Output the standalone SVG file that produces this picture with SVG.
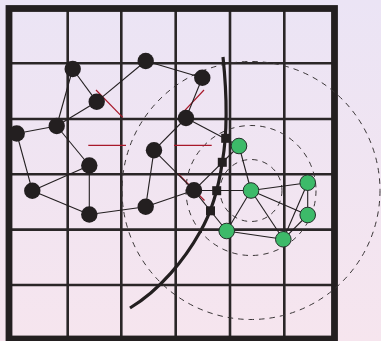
<svg xmlns="http://www.w3.org/2000/svg" width="381" height="341" viewBox="0 0 381 341">
<defs>
<linearGradient id="bg" x1="0" y1="0" x2="0" y2="1">
<stop offset="0" stop-color="#ebe4f5"/>
<stop offset="1" stop-color="#f6e5ee"/>
</linearGradient>
<style>
.grid{stroke:#2a2627;stroke-width:2.6;fill:none}
.frame{stroke:#231f20;stroke-width:6.8;fill:none}
.dash{stroke:#3a3637;stroke-width:1;fill:none;stroke-dasharray:5.5 5}
.red{stroke:#a8182a;stroke-width:1.2;fill:none}
.edge{stroke:#231f20;stroke-width:1.1;fill:none}
.cut{stroke:#231f20;stroke-width:3.2;fill:none;stroke-linecap:butt}
.bn{fill:#231f20}
.gn{fill:#3dba69;stroke:#24302a;stroke-width:1}
.sq{fill:#231f20}
</style>
</defs>
<rect x="0" y="0" width="381" height="341" fill="url(#bg)"/>
<g id="grid">
<path class="grid" d="M67.7,9V339M121.3,9V339M175.7,9V339M230,9V339M284.3,9V339M9,63.3H336M9,119H336M9,174.3H336M9,229.6H336M9,285H336"/>
</g>
<rect class="frame" x="9" y="8.5" width="325.5" height="330.5"/>
<g id="circles">
<circle class="dash" cx="251" cy="190.5" r="129"/>
<circle class="dash" cx="251" cy="190.5" r="65"/>
<circle class="dash" cx="251" cy="190.5" r="31"/>
</g>
<g id="bisectors">
<line class="red" x1="96" y1="90" x2="122.7" y2="117.3"/>
<line class="red" x1="88.3" y1="145.3" x2="126" y2="145.3"/>
<line class="red" x1="174" y1="145.3" x2="211.7" y2="145.3"/>
<line class="red" x1="178.3" y1="117.3" x2="204" y2="90"/>
<line class="red" x1="178.3" y1="174" x2="204.5" y2="200.5"/>
</g>
<g id="connectors">
<line class="edge" x1="72.7" y1="69" x2="96.7" y2="101.7"/>
<line class="edge" x1="72.7" y1="69" x2="56.7" y2="126"/>
<line class="edge" x1="96.7" y1="101.7" x2="145.7" y2="61"/>
<line class="edge" x1="96.7" y1="101.7" x2="56.7" y2="126"/>
<line class="edge" x1="145.7" y1="61" x2="202.3" y2="77.7"/>
<line class="edge" x1="202.3" y1="77.7" x2="186" y2="118"/>
<line class="edge" x1="186" y1="118" x2="154" y2="150.3"/>
<line class="edge" x1="186" y1="118" x2="239" y2="146"/>
<line class="edge" x1="56.7" y1="126" x2="16.7" y2="133.5"/>
<line class="edge" x1="56.7" y1="126" x2="89.3" y2="165.5"/>
<line class="edge" x1="16.7" y1="133.5" x2="32.3" y2="190.7"/>
<line class="edge" x1="89.3" y1="165.5" x2="32.3" y2="190.7"/>
<line class="edge" x1="89.3" y1="165.5" x2="89.3" y2="214.5"/>
<line class="edge" x1="32.3" y1="190.7" x2="89.3" y2="214.5"/>
<line class="edge" x1="89.3" y1="214.5" x2="145.7" y2="206.7"/>
<line class="edge" x1="154" y1="150.3" x2="145.7" y2="206.7"/>
<line class="edge" x1="154" y1="150.3" x2="194" y2="190.3"/>
<line class="edge" x1="145.7" y1="206.7" x2="194" y2="190.3"/>
<line class="edge" x1="194" y1="190.3" x2="239" y2="146"/>
<line class="edge" x1="194" y1="190.5" x2="251" y2="190.5"/>
<line class="edge" x1="194" y1="190.3" x2="226.7" y2="231"/>
<line class="edge" x1="239" y1="146" x2="251" y2="190.5"/>
<line class="edge" x1="251" y1="190.5" x2="307.7" y2="182.7"/>
<line class="edge" x1="251" y1="190.5" x2="307.7" y2="215"/>
<line class="edge" x1="251" y1="190.5" x2="226.7" y2="231"/>
<line class="edge" x1="251" y1="190.5" x2="283.3" y2="239.3"/>
<line class="edge" x1="307.7" y1="182.7" x2="307.7" y2="215"/>
<line class="edge" x1="307.7" y1="182.7" x2="283.3" y2="239.3"/>
<line class="edge" x1="307.7" y1="215" x2="283.3" y2="239.3"/>
<line class="edge" x1="226.7" y1="231" x2="283.3" y2="239.3"/>
</g>
<g id="cut">
<path class="cut" d="M223,57 C227,95 227.5,132 222.3,162.3 C219,185 213,210 200,232 C185,259 160,290 130,308"/>
</g>
<g id="n-A"><circle class="bn" cx="72.7" cy="69" r="8.2"/></g>
<g id="n-B"><circle class="bn" cx="145.7" cy="61" r="8.2"/></g>
<g id="n-C"><circle class="bn" cx="202.3" cy="77.7" r="8.2"/></g>
<g id="n-D"><circle class="bn" cx="96.7" cy="101.7" r="8.2"/></g>
<g id="n-E"><circle class="bn" cx="186" cy="118" r="8.2"/></g>
<g id="n-F"><circle class="bn" cx="56.7" cy="126" r="8.2"/></g>
<g id="n-G"><circle class="bn" cx="16.7" cy="133.5" r="8.2"/></g>
<g id="n-H"><circle class="bn" cx="154" cy="150.3" r="8.2"/></g>
<g id="n-I"><circle class="bn" cx="89.3" cy="165.5" r="8.2"/></g>
<g id="n-J"><circle class="bn" cx="32.3" cy="190.7" r="8.2"/></g>
<g id="n-K"><circle class="bn" cx="89.3" cy="214.5" r="8.2"/></g>
<g id="n-L"><circle class="bn" cx="145.7" cy="206.7" r="8.2"/></g>
<g id="n-M"><circle class="bn" cx="194" cy="190.3" r="8.2"/></g>
<g id="g-1"><circle class="gn" cx="239" cy="146" r="7.8"/></g>
<g id="g-2"><circle class="gn" cx="251" cy="190.5" r="7.8"/></g>
<g id="g-3"><circle class="gn" cx="307.7" cy="182.7" r="7.8"/></g>
<g id="g-4"><circle class="gn" cx="307.7" cy="215" r="7.8"/></g>
<g id="g-5"><circle class="gn" cx="226.7" cy="231" r="7.8"/></g>
<g id="g-6"><circle class="gn" cx="283.3" cy="239.3" r="7.8"/></g>
<g id="s-1"><rect class="sq" x="221.2" y="133.8" width="9" height="9"/></g>
<g id="s-2"><rect class="sq" x="217.8" y="157.8" width="9" height="9"/></g>
<g id="s-3"><rect class="sq" x="212.2" y="186.2" width="9" height="9"/></g>
<g id="s-4"><rect class="sq" x="206" y="206.3" width="9" height="9"/></g>
</svg>
